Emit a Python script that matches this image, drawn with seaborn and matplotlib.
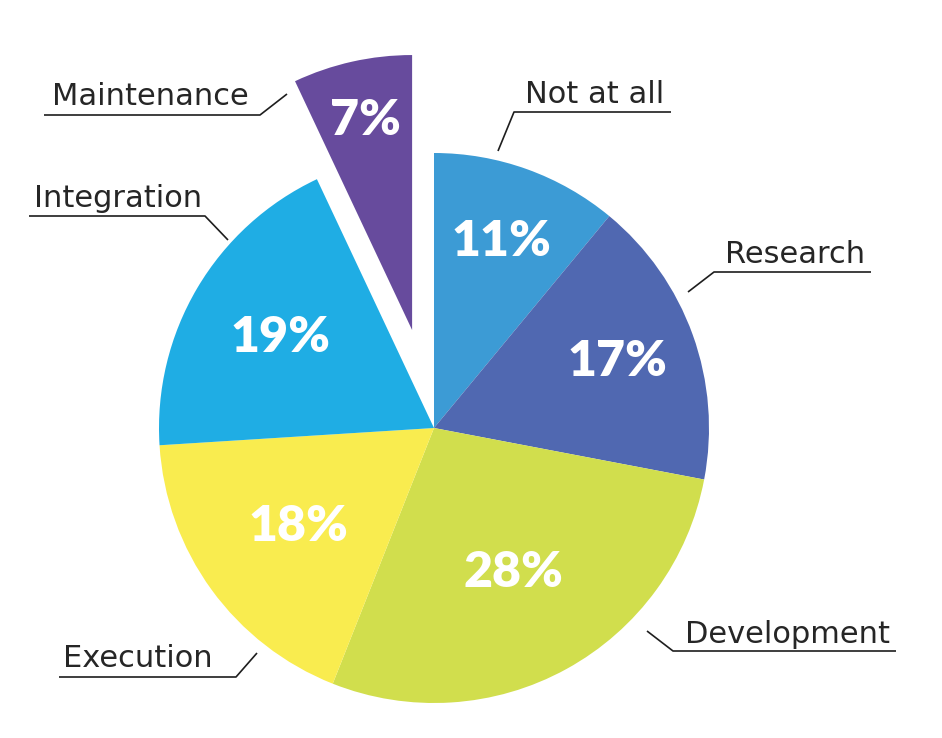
import numpy as np
import matplotlib
matplotlib.use("Agg")
import matplotlib.pyplot as plt
import seaborn as sns

# dados do gráfico (sentido horário a partir do topo)
categorias = ["Not at all", "Research", "Development", "Execution", "Integration", "Maintenance"]
percentuais = [11, 17, 28, 18, 19, 7]
cores = ["#3C9BD5", "#5068B1", "#D1DE4D", "#F9EC4F", "#1FADE4", "#674B9D"]

# layout (pixels da imagem de referência)
W, H = 942, 738
CX, CY, R = 434, 428, 275
destaque = [0, 0, 0, 0, 0, 0.365]
pct_raio = [0.72, 0.71, 0.60, 0.61, 0.65, 0.78]
# ponto na fatia, cotovelo, fim do sublinhado, x do texto, linha de base
chamadas = [
    ((498, 151), (514, 112), (671, 112), 525, 103),
    ((688, 292), (714, 272), (871, 272), 725, 263),
    ((647, 631), (673, 651), (896, 651), 685, 643),
    ((257, 653), (236, 677), (59, 677), 63, 667),
    ((228, 240), (205, 216), (29, 216), 34, 207),
    ((287, 94), (260, 115), (44, 115), 52, 105),
]


def px(x, y):
    return (x - CX) / R, (CY - y) / R


sns.set_theme(style="white")
plt.rcParams["font.family"] = ["DejaVu Sans"]

fig = plt.figure(figsize=(W / 100, H / 100), dpi=100)
ax = fig.add_axes([0, 0, 1, 1])

paleta = sns.color_palette(cores)
fatias, _ = ax.pie(percentuais, colors=paleta, startangle=90, counterclock=False,
                   explode=destaque, radius=1, wedgeprops=dict(linewidth=0))

# rótulos de porcentagem
for fatia, valor, rr in zip(fatias, percentuais, pct_raio):
    ang = np.deg2rad((fatia.theta1 + fatia.theta2) / 2)
    cx, cy = fatia.center
    ax.text(cx + rr * np.cos(ang), cy + rr * np.sin(ang), f"{valor}%",
            ha="center", va="center", color="white", fontsize=36,
            fontweight="heavy", family=["Lato", "DejaVu Sans"])

# nomes com linhas de chamada
for nome, (p0, p1, p2, tx, ty) in zip(categorias, chamadas):
    xs, ys = zip(*[px(*p) for p in (p0, p1, p2)])
    ax.plot(xs, ys, color="#1E1E1E", lw=1.2, solid_capstyle="butt")
    x, y = px(tx, ty)
    ax.text(x, y, nome, ha="left", va="baseline", fontsize=22, color="#262626")

ax.set_xlim(-CX / R, (W - CX) / R)
ax.set_ylim((CY - H) / R, CY / R)
ax.set_aspect("equal")
ax.axis("off")

fig.savefig("out.png", dpi=100, facecolor="white")
